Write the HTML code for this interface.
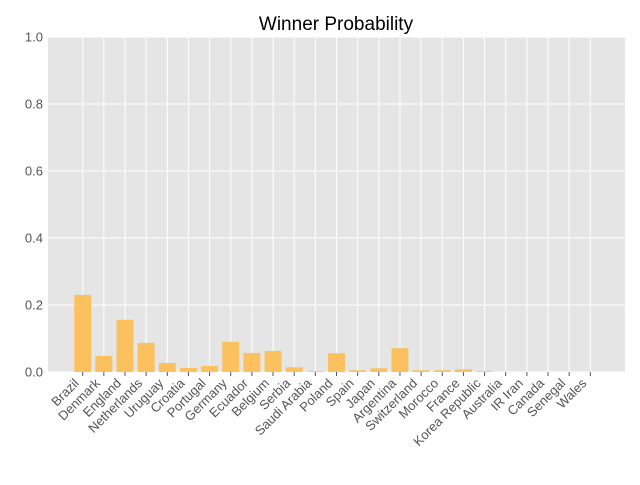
<!DOCTYPE html>
<html><head><meta charset="utf-8"><style>
body{margin:0;background:#fff;}
svg{font-family:"Liberation Sans","DejaVu Sans",sans-serif;}
</style></head><body>
<svg id="chart" width="640" height="480" viewBox="0 0 640 480" xmlns="http://www.w3.org/2000/svg">
<rect x="48" y="37" width="577" height="335" fill="#e5e5e5"/>
<g id="grid"></g><g id="bars"></g><g id="ticks"></g>
<text x="336" y="30" text-anchor="middle" font-size="19" fill="#000">Winner Probability</text>
</svg>
<script>
const categories=["Brazil","Denmark","England","Netherlands","Uruguay","Croatia","Portugal","Germany","Ecuador","Belgium","Serbia","Saudi Arabia","Poland","Spain","Japan","Argentina","Switzerland","Morocco","France","Korea Republic","Australia","IR Iran","Canada","Senegal","Wales"];
const values=[0.23,0.048,0.156,0.087,0.027,0.012,0.018,0.09,0.057,0.063,0.014,0.002,0.056,0.005,0.011,0.071,0.005,0.005,0.008,0.002,0,0,0,0,0];
const yTicks=[0,0.2,0.4,0.6,0.8,1.0];
const yTickLabels=["0.0","0.2","0.4","0.6","0.8","1.0"];
const NS="http://www.w3.org/2000/svg";
const L=48,R=625,T=37,B=372;
const n=categories.length,xmin=-0.4-0.05*(n-0.2),xmax=n-0.6+0.05*(n-0.2);
const X=i=>L+(i-xmin)/(xmax-xmin)*(R-L);
const Y=v=>B-v*(B-T);
const bw=0.8*(R-L)/(xmax-xmin);
function mk(t,a,p){const e=document.createElementNS(NS,t);for(const k in a)e.setAttribute(k,a[k]);p.appendChild(e);return e;}
const grid=document.getElementById('grid'),bars=document.getElementById('bars'),ticks=document.getElementById('ticks');
yTicks.forEach((v,i)=>{
 const g=mk('line',{x1:L,x2:R,y1:Y(v),y2:Y(v),stroke:'#fff','stroke-width':1},grid);
 
 
 const t=mk('text',{x:L-5,y:Y(v)+4.5,'text-anchor':'end','font-size':13,fill:'#555'},ticks);
 t.textContent=yTickLabels[i];
 
 
});
categories.forEach((c,i)=>{
 const x=X(i);
 const g=mk('line',{x1:x,x2:x,y1:T,y2:B,stroke:'#fff','stroke-width':1},grid);
 
 
 const r=mk('rect',{x:x-bw/2,y:Y(values[i]),width:bw,height:B-Y(values[i]),fill:'#fbc15e'},bars);
 
 
 const tk=mk('line',{x1:x,x2:x,y1:B,y2:B+4,stroke:'#555','stroke-width':1},ticks);
 
 
 const ax=x-3, ay=B+12;
 const t=mk('text',{x:ax,y:ay,'text-anchor':'end','font-size':13,fill:'#555',transform:`rotate(-45 ${ax} ${ay})`},ticks);
 t.textContent=c;
 
 
});
</script>
</body></html>
